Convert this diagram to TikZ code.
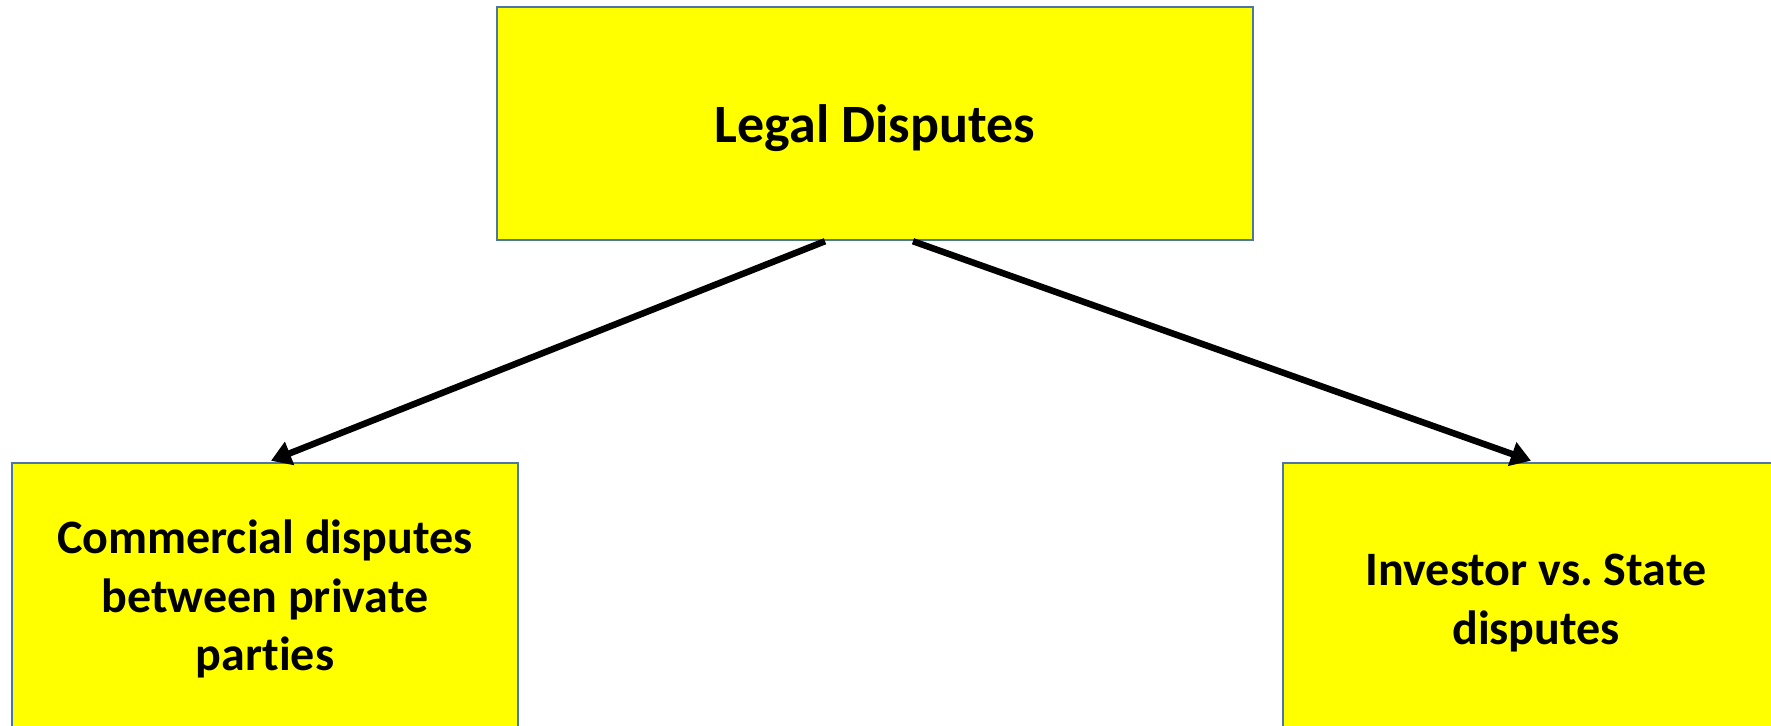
\documentclass[tikz,border=0pt]{standalone}
\usepackage{fontspec}
\setmainfont{Carlito}[Ligatures=NoCommon]
\usetikzlibrary{arrows.meta}
\definecolor{boxline}{RGB}{76,118,168}
\definecolor{boxfill}{RGB}{255,255,0}
\tikzset{
  databox/.style={draw=boxline, line width=2.5pt, fill=boxfill, inner sep=0pt,
    align=center, font=\bfseries\fontsize{48}{58.5}\selectfont},
  link/.style={line width=6.5pt, -{Triangle[length=20pt,width=24pt]}}
}
\frenchspacing
\begin{document}
\begin{tikzpicture}[x=1pt,y=1pt]
\useasboundingbox (0,0) rectangle (1771,-725);
\clip (0,0) rectangle (1771,-725);
\node[databox, minimum width=756pt, minimum height=233pt, font=\bfseries\fontsize{54}{64}\selectfont] (top) at (875,-123.5) {\raisebox{-5pt}[\height][\depth]{Legal Disputes}};
\node[databox, minimum width=506pt, minimum height=272pt] (left) at (265,-599) {Commercial disputes\\between private\\parties};
\node[databox, minimum width=506pt, minimum height=280pt] (right) at (1536,-603) {Investor vs. State\\disputes};
\draw[link] ([xshift=-50pt]top.south) -- ([xshift=6pt,yshift=1pt]left.north);
\draw[link] ([xshift=38pt]top.south) -- ([xshift=-5pt,yshift=1pt]right.north);
\end{tikzpicture}
\end{document}
